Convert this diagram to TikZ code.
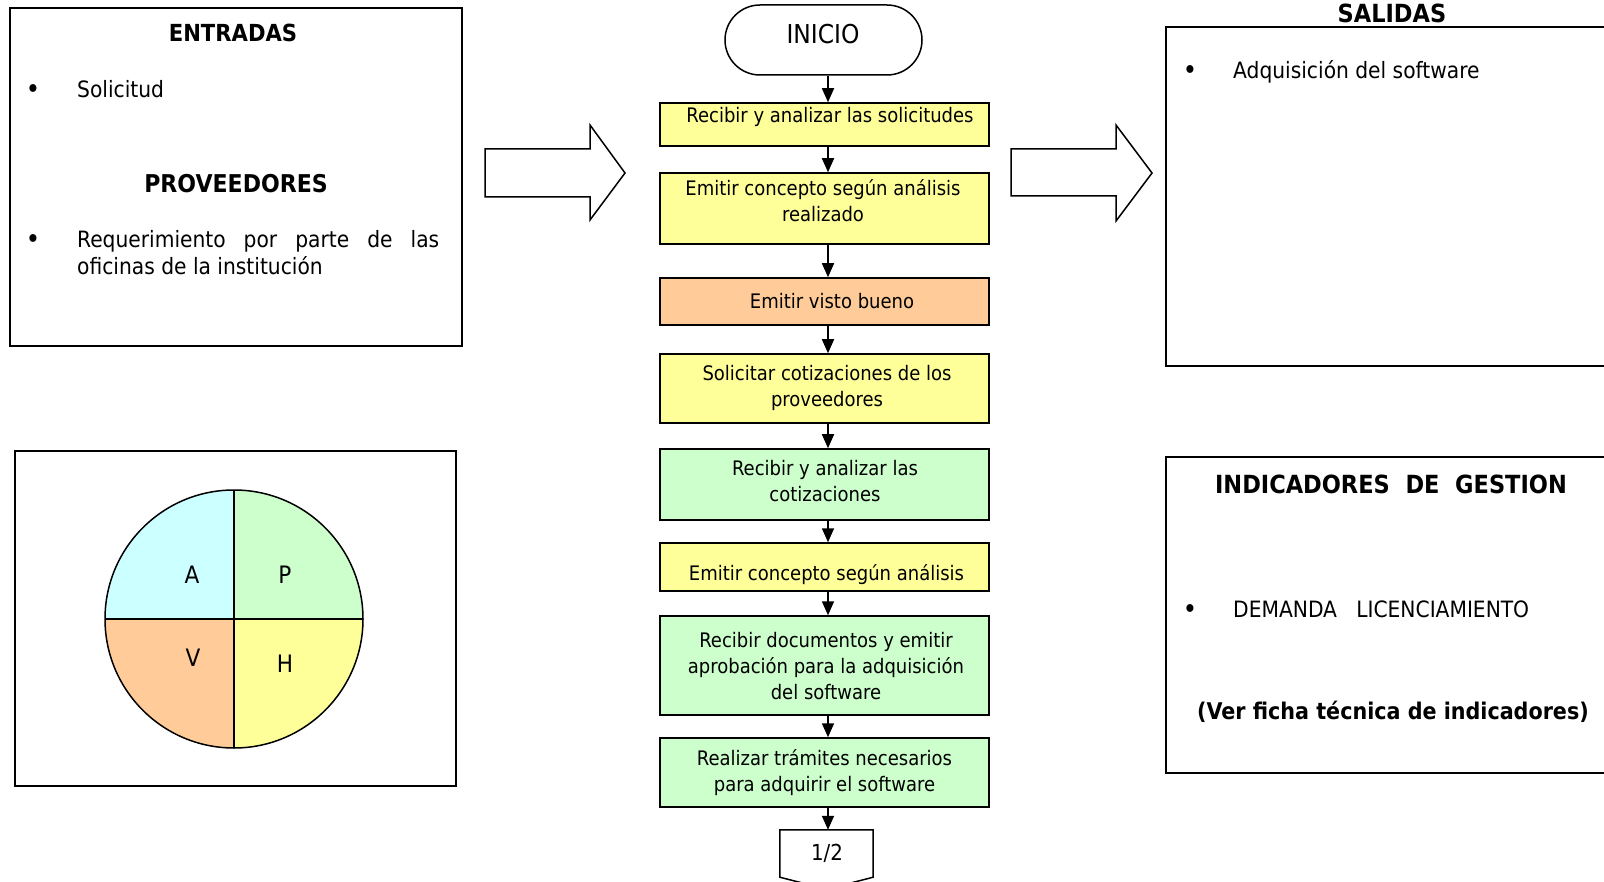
\documentclass[tikz,border=0pt]{standalone}
\usepackage{fontspec}
\setmainfont{DejaVu Sans Condensed}
\usetikzlibrary{arrows.meta,calc}
\definecolor{yel}{HTML}{FFFF99}
\definecolor{ora}{HTML}{FFCC99}
\definecolor{grn}{HTML}{CCFFCC}
\definecolor{cya}{HTML}{CCFFFF}
\tikzset{
  frame/.style={draw, line width=1.5pt, inner sep=0pt},
  stepbox/.style={draw, line width=1.5pt, minimum width=329pt, inner sep=0pt},
  steptext/.style={font=\fontsize{20}{26}\selectfont, align=center, inner sep=0pt},
  body/.style={font=\fontsize{22.5}{27}\selectfont, inner sep=0pt},
  dot/.style={font=\fontsize{27}{27}\selectfont, inner sep=0pt},
  head/.style={font=\fontsize{23.5}{27}\selectfont\bfseries, inner sep=0pt},
  flow/.style={-{Triangle[width=12pt,length=14pt]}, line width=1.6pt},
  bigarrow/.style={draw, line width=1.5pt, fill=white},
  pdca/.style={font=\fontsize{24}{28}\selectfont, inner sep=0pt}
}
\begin{document}
\begin{tikzpicture}[x=1pt,y=1pt]
\useasboundingbox (0,0) rectangle (1604,-882);

% ---------- ENTRADAS / PROVEEDORES ----------
\node[frame, minimum width=452pt, minimum height=338pt] (entr) at (236,-177) {};
\node[head, anchor=base] (entrT) at (233,-42) {ENTRADAS};
\node[dot, anchor=base] (bul1) at (33,-99) {•};
\node[body, anchor=base west] (sol) at (77,-98) {Solicitud};
\node[head, anchor=base, font=\fontsize{24.5}{28}\selectfont\bfseries] (provT) at (236,-193) {PROVEEDORES};
\node[dot, anchor=base] (bul2) at (33,-249) {•};
\node[body, anchor=base west] (req1) at (77,-248) {\makebox[362pt][s]{Requerimiento por parte de las}};
\node[body, anchor=base west] (req2) at (77,-275) {oficinas de la institución};

% ---------- PHVA wheel ----------
\node[frame, minimum width=441pt, minimum height=335pt] (phva) at (235.5,-618.5) {};
\coordinate (c) at (234,-619);
\fill[cya] (c) -- (105,-619) arc[start angle=180,end angle=90,radius=129] -- cycle;
\fill[grn] (c) -- (234,-490) arc[start angle=90,end angle=0,radius=129] -- cycle;
\fill[yel] (c) -- (363,-619) arc[start angle=0,end angle=-90,radius=129] -- cycle;
\fill[ora] (c) -- (234,-748) arc[start angle=270,end angle=180,radius=129] -- cycle;
\draw[line width=1.5pt] (c) circle[radius=129];
\draw[line width=1.5pt] (105,-619) -- (363,-619) (234,-490) -- (234,-748);
\node[pdca, anchor=base] (qa) at (192,-583) {A};
\node[pdca, anchor=base] (qp) at (285,-583) {P};
\node[pdca, anchor=base] (qv) at (193,-666) {V};
\node[pdca, anchor=base] (qh) at (285,-672) {H};

% ---------- hollow block arrows ----------
\draw[bigarrow] (485,-149) -- (590,-149) -- (590,-125) -- (625,-173) -- (590,-220) -- (590,-197) -- (485,-197) -- cycle;
\draw[bigarrow] (1011,-149) -- (1116,-149) -- (1116,-125) -- (1152,-173) -- (1116,-221) -- (1116,-196) -- (1011,-196) -- cycle;

% ---------- SALIDAS ----------
\node[head, anchor=base, font=\fontsize{25}{28}\selectfont\bfseries] (salT) at (1392,-23) {SALIDAS};
\node[frame, minimum width=454pt, minimum height=339pt] (sal) at (1393,-196.5) {};
\node[dot, anchor=base] (bul3) at (1190,-80) {•};
\node[body, anchor=base west] (adq) at (1233,-79) {Adquisición del software};

% ---------- INDICADORES ----------
\node[frame, minimum width=454pt, minimum height=316pt] (ind) at (1393,-615) {};
\node[head, anchor=base, font=\fontsize{25}{28}\selectfont\bfseries] (indT) at (1391,-493) {INDICADORES~~DE~~GESTION};
\node[dot, anchor=base] (bul4) at (1190,-618) {•};
\node[body, anchor=base west] (dem) at (1233,-617) {DEMANDA~~~LICENCIAMIENTO};
\node[head, anchor=base, font=\fontsize{23}{28}\selectfont\bfseries] (ver) at (1393,-719) {(Ver ficha técnica de indicadores)};

% ---------- flow ----------
\coordinate (spine) at (828,0);
\node[draw, line width=1.5pt, rounded corners=35pt, minimum width=197pt, minimum height=70pt] (inicio) at (823.5,-40) {};
\node[font=\fontsize{26}{30}\selectfont, inner sep=0pt, anchor=base] (inicioT) at (823,-44) {INICIO};

\node[stepbox, fill=yel, minimum height=43pt] (b1) at (824.5,-124.5) {};
\node[steptext] (t1) at (830,-117) {Recibir y analizar las solicitudes};
\node[stepbox, fill=yel, minimum height=71pt] (b2) at (824.5,-208.5) {};
\node[steptext] (t2) at (823,-200.5) {Emitir concepto según análisis\\realizado};
\node[stepbox, fill=ora, minimum height=47pt] (b3) at (824.5,-301.5) {};
\node[steptext] (t3) at (832,-301.5) {Emitir visto bueno};
\node[stepbox, fill=yel, minimum height=69pt] (b4) at (824.5,-388.5) {};
\node[steptext] (t4) at (827,-388) {Solicitar cotizaciones de los\\proveedores};
\node[stepbox, fill=grn, minimum height=71pt] (b5) at (824.5,-484.5) {};
\node[steptext] (t5) at (825,-481.5) {Recibir y analizar las\\cotizaciones};
\node[stepbox, fill=yel, minimum height=48pt] (b6) at (824.5,-567) {};
\node[steptext] (t6) at (826.5,-575) {Emitir concepto según análisis};
\node[stepbox, fill=grn, minimum height=99pt] (b7) at (824.5,-665.5) {};
\node[steptext] (t7) at (826,-666.5) {Recibir documentos y emitir\\aprobación para la adquisición\\del software};
\node[stepbox, fill=grn, minimum height=69pt] (b8) at (824.5,-772.5) {};
\node[steptext] (t8) at (824.5,-773) {Realizar trámites necesarios\\para adquirir el software};

% off-page connector
\node[inner sep=0pt, minimum width=93pt, minimum height=47pt] (pg) at (826.5,-853.5) {};
\draw[line width=1.5pt, fill=white] (pg.south west) -- (pg.north west) -- (pg.north east) -- (pg.south east) -- ($(pg.south)+(0,-12)$) -- cycle;
\node[font=\fontsize{22}{26}\selectfont, inner sep=0pt, anchor=base] (pgT) at (827,-860) {1/2};

\draw[flow] (inicio.south -| spine) -- (b1.north -| spine);
\draw[flow] (b1.south -| spine) -- (b2.north -| spine);
\draw[flow] (b2.south -| spine) -- (b3.north -| spine);
\draw[flow] (b3.south -| spine) -- (b4.north -| spine);
\draw[flow] (b4.south -| spine) -- (b5.north -| spine);
\draw[flow] (b5.south -| spine) -- (b6.north -| spine);
\draw[flow] (b6.south -| spine) -- (b7.north -| spine);
\draw[flow] (b7.south -| spine) -- (b8.north -| spine);
\draw[flow] (b8.south -| spine) -- (pg.north -| spine);
\end{tikzpicture}
\end{document}
